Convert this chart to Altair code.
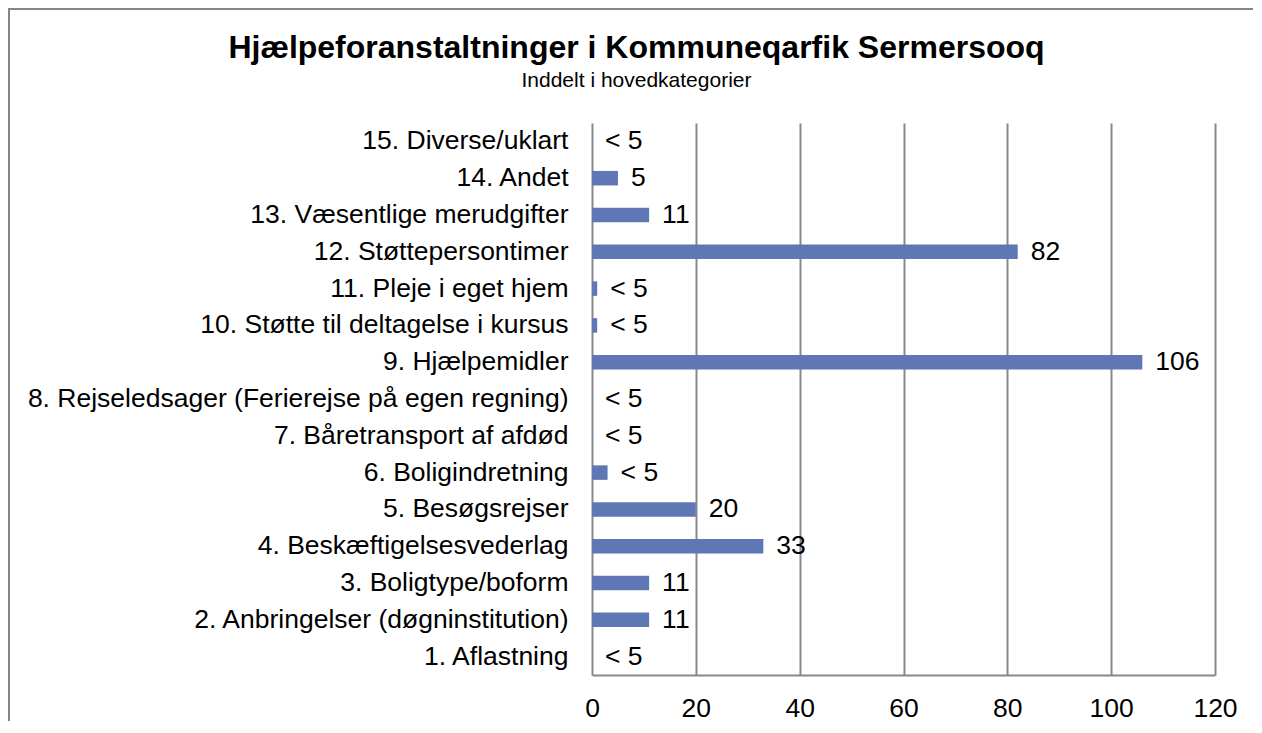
import altair as alt
import pandas as pd

categories = [
    "1. Aflastning",
    "2. Anbringelser (døgninstitution)",
    "3. Boligtype/boform",
    "4. Beskæftigelsesvederlag",
    "5. Besøgsrejser",
    "6. Boligindretning",
    "7. Båretransport af afdød",
    "8. Rejseledsager (Ferierejse på egen regning)",
    "9. Hjælpemidler",
    "10. Støtte til deltagelse i kursus",
    "11. Pleje i eget hjem",
    "12. Støttepersontimer",
    "13. Væsentlige merudgifter",
    "14. Andet",
    "15. Diverse/uklart",
]
values = [0, 11, 11, 33, 20, 3, 0, 0, 106, 1, 1, 82, 11, 5, 0]
labels = ["< 5", "11", "11", "33", "20", "< 5", "< 5", "< 5", "106", "< 5", "< 5", "82", "11", "5", "< 5"]
x_ticks = [0, 20, 40, 60, 80, 100, 120]

title_text = "Hjælpeforanstaltninger i Kommuneqarfik Sermersooq"
subtitle_text = "Inddelt i hovedkategorier"

FONT = "Liberation Sans"
GRID = "#898989"
FS = 26.5

df = pd.DataFrame({"cat": categories, "val": values, "lab": labels})
order = list(reversed(categories))

y_enc = alt.Y(
    "cat:N",
    sort=order,
    scale=alt.Scale(paddingInner=0.606, paddingOuter=0.303),
    axis=alt.Axis(
        title=None, domain=False, ticks=False, grid=False,
        labelPadding=24, labelFont=FONT, labelFontSize=FS,
        labelColor="black", labelLimit=1000,
    ),
)
x_enc = alt.X(
    "val:Q",
    scale=alt.Scale(domain=[0, 120], nice=False),
    axis=alt.Axis(
        title=None, values=x_ticks, grid=True, gridColor=GRID, gridWidth=2,
        domain=True, domainColor=GRID, domainWidth=2, ticks=False, tickSize=0,
        labelPadding=20, labelFont=FONT, labelFontSize=FS, labelColor="black",
        labelFlush=False, labelOverlap=False,
    ),
)

base = alt.Chart(df)
bars = base.mark_bar(color="#5f77b4").encode(x=x_enc, y=y_enc)
text = base.mark_text(
    align="left", baseline="middle", dx=13, font=FONT, fontSize=FS, color="black"
).encode(x="val:Q", y=alt.Y("cat:N", sort=order), text="lab:N")

one = pd.DataFrame({"t": [title_text], "s": [subtitle_text]})
title = alt.Chart(one).mark_text(
    align="center", baseline="alphabetic", font=FONT, fontSize=32, fontWeight="bold", color="black"
).encode(text="t:N", x=alt.value(44.5), y=alt.value(-65))
subtitle = alt.Chart(one).mark_text(
    align="center", baseline="alphabetic", font=FONT, fontSize=21, color="black"
).encode(text="s:N", x=alt.value(44.5), y=alt.value(-36))
border = alt.Chart(one).mark_rect(fill=None, stroke="#868686", strokeWidth=2).encode(
    x=alt.value(-583), x2=alt.value(700), y=alt.value(-114), y2=alt.value(650)
)

chart = (
    alt.layer(border, bars, text, title, subtitle)
    .properties(
        width=623, height=552,
        autosize=alt.AutoSizeParams(type="none"),
        padding={"left": 584, "top": 115, "right": 38, "bottom": 46},
    )
    .configure_view(stroke=None)
)

chart.save("out.html", embed_options={"renderer": "svg", "actions": False})
